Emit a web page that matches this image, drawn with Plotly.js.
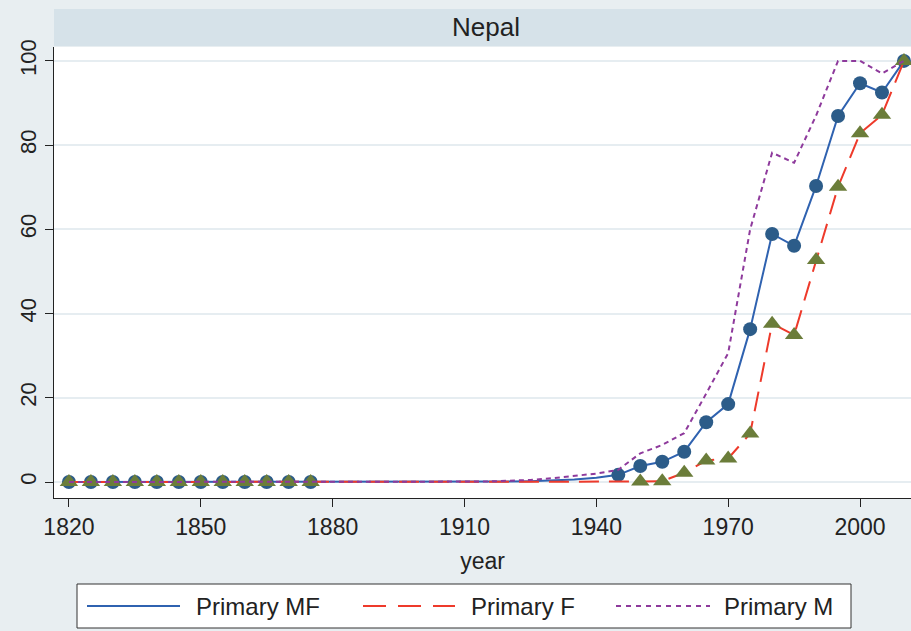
<!DOCTYPE html>
<html>
<head>
<meta charset="utf-8">
<script src="https://cdn.plot.ly/plotly-3.0.1.min.js"></script>
<style>
html,body{margin:0;padding:0;background:#e8eef1;}
#chart{width:911px;height:631px;}
</style>
</head>
<body>
<div id="chart"></div>
<script>
// ---- data ----
const years = [1820,1825,1830,1835,1840,1845,1850,1855,1860,1865,1870,1875,
  1880,1885,1890,1895,1900,1905,1910,1915,1920,1925,1930,1935,1940,
  1945,1950,1955,1960,1965,1970,1975,1980,1985,1990,1995,2000,2005,2010];
const primaryMF = [0,0,0,0,0,0,0,0,0,0,0,0,
  0,0,0,0,0,0,0,0,0.1,0.2,0.4,0.6,1.0,
  1.7,3.8,4.8,7.2,14.2,18.5,36.3,58.9,56.1,70.3,86.9,94.7,92.5,100];
const primaryF = [0,0,0,0,0,0,0,0,0,0,0,0,
  0,0,0,0,0,0,0,0,0,0,0,0,0,
  0,0.1,0.2,2.2,5.1,5.6,11.5,37.6,34.9,52.7,70.1,82.8,87.2,100];
const primaryM = [0,0,0,0,0,0,0,0,0,0,0,0,
  0,0,0,0,0,0,0,0.1,0.3,0.5,0.9,1.4,2.0,
  2.9,6.8,8.8,11.6,21.0,30.6,60.0,78.2,75.8,87.0,100,100,97.0,100];
// years with plotted markers
const markerYearsMF = [1820,1825,1830,1835,1840,1845,1850,1855,1860,1865,1870,1875,
  1945,1950,1955,1960,1965,1970,1975,1980,1985,1990,1995,2000,2005,2010];
const markerYearsF = [1820,1825,1830,1835,1840,1845,1850,1855,1860,1865,1870,1875,
  1950,1955,1960,1965,1970,1975,1980,1985,1990,1995,2000,2005,2010];
const seriesNames = ["Primary MF","Primary F","Primary M"];
const panelTitle = "Nepal";
const xTicks = [1820,1850,1880,1910,1940,1970,2000];
const yTicks = [0,20,40,60,80,100];

// ---- styling ----
const cBlue = "#2f62b0", cMarkBlue = "#2c5c89";
const cRed = "#ee3a2b", cOlive = "#6b7d3a", cPurple = "#8e3a9c";
const redDash = "20px,10px", purDash = "5px,4px";
const font = "Liberation Sans, Arial, sans-serif";

function sizes(markerYears, s){ return years.map(y => markerYears.includes(y) ? s : 0); }

const traces = [
  {x: years, y: primaryMF, name: seriesNames[0], mode: "lines+markers", showlegend:false,
   line:{color:cBlue, width:2},
   marker:{symbol:"circle", size:sizes(markerYearsMF,14), opacity:1, color:cMarkBlue, line:{width:0}}},
  {x: years, y: primaryF, name: seriesNames[1], mode: "lines+markers", showlegend:false,
   line:{color:cRed, width:2, dash:redDash},
   marker:{symbol:"triangle-up", size:sizes(markerYearsF,16), opacity:1, color:cOlive, line:{width:0}}},
  {x: years, y: primaryM, name: seriesNames[2], mode: "lines", showlegend:false,
   line:{color:cPurple, width:2, dash:purDash}}
];

// paper-coordinate helpers (plot area: x 54..911, y 47..498)
const L=54, R=911, T=47, B=498;
const px = v => (v-L)/(R-L);
const py = v => (B-v)/(B-T);

const legY = py(606);
const shapes = [
  {type:"rect", xref:"paper", yref:"paper", x0:px(L), x1:px(R+2), y0:py(46), y1:py(9),
   fillcolor:"#d6e2e9", line:{width:0}, layer:"below"},
  {type:"rect", xref:"paper", yref:"paper", x0:px(77), x1:px(851), y0:py(628), y1:py(584),
   fillcolor:"#ffffff", line:{color:"#333333", width:1}},
  {type:"line", xref:"paper", yref:"paper", x0:px(87), x1:px(180), y0:legY, y1:legY,
   line:{color:cBlue, width:2}},
  {type:"line", xref:"paper", yref:"paper", x0:px(363), x1:px(455), y0:legY, y1:legY,
   line:{color:cRed, width:2, dash:"23px,12px"}},
  {type:"line", xref:"paper", yref:"paper", x0:px(616), x1:px(710), y0:legY, y1:legY,
   line:{color:cPurple, width:2, dash:"5px,5px"}}
];
const annotations = [
  {text: panelTitle, xref:"paper", yref:"paper", x:px(486), y:py(27), showarrow:false,
   xanchor:"center", yanchor:"middle", font:{family:font, size:26, color:"#222"}},
  {text: seriesNames[0], xref:"paper", yref:"paper", x:px(194), y:legY, showarrow:false,
   xanchor:"left", yanchor:"middle", font:{family:font, size:24, color:"#222"}},
  {text: seriesNames[1], xref:"paper", yref:"paper", x:px(469), y:legY, showarrow:false,
   xanchor:"left", yanchor:"middle", font:{family:font, size:24, color:"#222"}},
  {text: seriesNames[2], xref:"paper", yref:"paper", x:px(722), y:legY, showarrow:false,
   xanchor:"left", yanchor:"middle", font:{family:font, size:24, color:"#222"}}
];

const layout = {
  width: 911, height: 631,
  margin: {l:L, r:0, t:T, b:631-B, pad:0},
  paper_bgcolor: "#e8eef1", plot_bgcolor: "#ffffff",
  font: {family: font, color:"#222"},
  showlegend: false,
  xaxis: {range:[1816.6, 2011.6], tickvals:xTicks, ticktext:xTicks.map(String),
    ticks:"outside", ticklen:8, tickwidth:1, tickcolor:"#222",
    showline:true, linecolor:"#222", linewidth:1, showgrid:false, zeroline:false,
    tickfont:{size:23, family:font, color:"#222"},
    title:{text:"year", font:{size:23, family:font, color:"#222"}, standoff:14}},
  yaxis: {range:[-3.8, 103.3], tickvals:yTicks, ticktext:yTicks.map(String),
    ticks:"outside", ticklen:8, tickwidth:1, tickcolor:"#222", tickangle:-90,
    showline:true, linecolor:"#222", linewidth:1, showgrid:true, gridcolor:"#e6edf1",
    gridwidth:2, zeroline:false,
    tickfont:{size:22, family:font, color:"#222"}},
  shapes: shapes,
  annotations: annotations
};

Plotly.newPlot("chart", traces, layout, {displayModeBar:false, staticPlot:true});
</script>
</body>
</html>
